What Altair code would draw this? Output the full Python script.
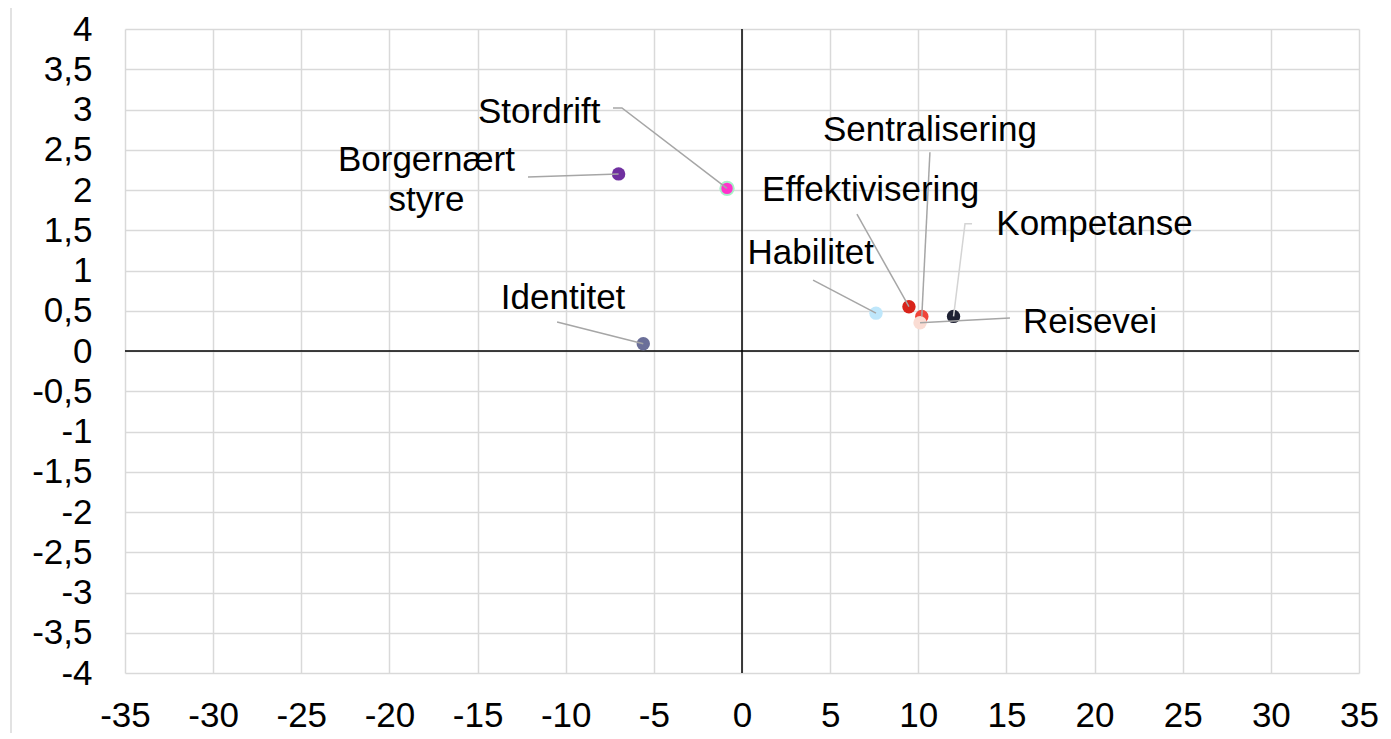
import altair as alt
import pandas as pd

# --- data ---
names = ["Borgernært styre", "Stordrift", "Identitet", "Habilitet",
         "Effektivisering", "Sentralisering", "Reisevei", "Kompetanse"]
xs = [-7.0, -0.85, -5.6, 7.6, 9.47, 10.2, 10.1, 12.0]
ys = [2.2, 2.02, 0.09, 0.47, 0.55, 0.43, 0.35, 0.43]
point_colors = ["#7030a0", "#ff33cc", "#6b6f99", "#bfe7fb",
                "#d8231a", "#f0453a", "#fadcd3", "#1e2133"]

# label annotations (data coordinates)
label_text = ["Borgernært\nstyre", "Stordrift", "Identitet", "Habilitet",
              "Effektivisering", "Sentralisering", "Reisevei", "Kompetanse"]
label_x = [-17.9, -11.5, -10.15, 3.9, 7.3, 10.66, 19.74, 20.0]
label_y = [2.37, 2.97, 0.66, 1.22, 2.0, 2.75, 0.36, 1.58]

# leader line vertices (data coordinates), ending at the point
leader_pts = {
    "Borgernært styre": [(-12.14, 2.16), (-7.0, 2.2)],
    "Stordrift": [(-7.32, 3.02), (-6.81, 3.02), (-0.85, 2.02)],
    "Identitet": [(-10.49, 0.36), (-5.6, 0.09)],
    "Habilitet": [(4.03, 0.88), (7.6, 0.47)],
    "Effektivisering": [(6.52, 1.70), (9.47, 0.55)],
    "Sentralisering": [(10.66, 2.47), (10.2, 0.43)],
    "Reisevei": [(15.2, 0.41), (10.1, 0.35)],
    "Kompetanse": [(13.05, 1.58), (12.65, 1.58), (12.0, 0.43)],
}
leader_colors = {n: "#a6a6a6" for n in names}
leader_colors["Kompetanse"] = "#d4d4d4"

x_ticks = list(range(-35, 40, 5))
y_ticks = [v / 2 for v in range(-8, 9)]

pts = pd.DataFrame({"name": names, "x": xs, "y": ys})
lbl = pd.DataFrame({"text": label_text, "x": label_x, "y": label_y})
rows = []
for n, verts in leader_pts.items():
    for i, (vx, vy) in enumerate(verts):
        rows.append({"name": n, "i": i, "x": vx, "y": vy, "lc": leader_colors[n]})
lead = pd.DataFrame(rows)

FONT = "Liberation Sans"
FS = 35
label_expr = "replace(toString(datum.value), '.', ',')"

xscale = alt.Scale(domain=[-35, 35], nice=False, zero=False)
yscale = alt.Scale(domain=[-4, 4], nice=False, zero=False)

xaxis = alt.Axis(values=x_ticks, title=None, domain=False, ticks=False,
                 grid=True, gridColor="#d9d9d9", gridWidth=1.5,
                 labelFont=FONT, labelFontSize=FS, labelColor="#000000",
                 labelPadding=25, labelExpr=label_expr, labelFlush=False)
yaxis = alt.Axis(values=y_ticks, title=None, domain=False, ticks=False,
                 grid=True, gridColor="#d9d9d9", gridWidth=1.5,
                 labelFont=FONT, labelFontSize=FS, labelColor="#000000",
                 labelPadding=33, labelExpr=label_expr, labelFlush=False)

base = alt.Chart(pts)

points = base.mark_circle(size=180, opacity=1, stroke="#a8f0c8", strokeWidth=0).encode(
    x=alt.X("x:Q", scale=xscale, axis=xaxis),
    y=alt.Y("y:Q", scale=yscale, axis=yaxis),
    color=alt.Color("name:N", scale=alt.Scale(domain=names, range=point_colors), legend=None),
    strokeWidth=alt.condition(alt.datum.name == "Stordrift", alt.value(2), alt.value(0)),
)

zero_v = alt.Chart(pd.DataFrame({"x": [0]})).mark_rule(color="#000000", strokeWidth=1.5).encode(
    x=alt.X("x:Q", scale=xscale))
zero_h = alt.Chart(pd.DataFrame({"y": [0]})).mark_rule(color="#000000", strokeWidth=1.5).encode(
    y=alt.Y("y:Q", scale=yscale))

leaders = alt.Chart(lead).mark_line(strokeWidth=1.5).encode(
    x=alt.X("x:Q", scale=xscale),
    y=alt.Y("y:Q", scale=yscale),
    detail="name:N",
    order="i:Q",
    color=alt.Color("lc:N", scale=None),
)

labels = alt.Chart(lbl).mark_text(font=FONT, fontSize=FS, color="#000000",
                                  align="center", baseline="middle",
                                  lineBreak="\n", lineHeight=40).encode(
    x=alt.X("x:Q", scale=xscale),
    y=alt.Y("y:Q", scale=yscale),
    text="text:N",
)

outer = alt.Chart(pd.DataFrame({"a": [0]})).mark_rule(color="#d9d9d9", strokeWidth=1.5).encode(
    x=alt.value(-114), y=alt.value(-29), y2=alt.value(720))

chart = alt.layer(outer, zero_v, zero_h, points, leaders, labels).properties(
    width=1234, height=644,
    autosize=alt.AutoSizeParams(type="none"),
    padding={"left": 117, "top": 21, "right": 20, "bottom": 60},
).configure_view(stroke=None)

chart.save("out.html", embed_options={"renderer": "svg", "actions": False})
